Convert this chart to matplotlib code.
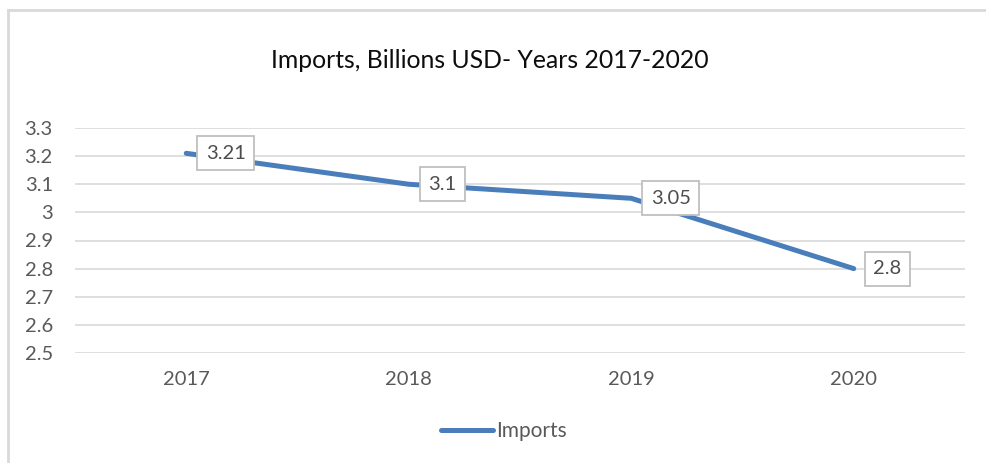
import matplotlib.pyplot as plt
from matplotlib.lines import Line2D

years = ["2017", "2018", "2019", "2020"]
imports = [3.21, 3.1, 3.05, 2.8]
y_ticks = [2.5, 2.6, 2.7, 2.8, 2.9, 3.0, 3.1, 3.2, 3.3]
y_tick_labels = ["2.5", "2.6", "2.7", "2.8", "2.9", "3", "3.1", "3.2", "3.3"]

plt.rcParams["font.family"] = ["Lato", "DejaVu Sans"]

line_color = "#4a7ebb"
grid_color = "#d9d9d9"
text_color = "#595959"

fig = plt.figure(figsize=(9.86, 4.63), dpi=100)
ax = fig.add_axes([75 / 986, 1 - 353 / 463, 890 / 986, 225 / 463])

xs = range(len(years))
ax.plot(xs, imports, color=line_color, lw=3.6, solid_capstyle="round",
        solid_joinstyle="round", zorder=3)

# value labels in boxes, sitting just right of each point
for x, v in zip(xs, imports):
    ax.annotate(f"{v:g}", (x, v), xytext=(14, 0), textcoords="offset points",
                ha="left", va="center", fontsize=14.5, color="#4d4d4d", zorder=4,
                bbox=dict(boxstyle="square,pad=0.42", fc="white", ec="#bfbfbf", lw=1.3))

ax.set_xlim(-0.5, len(years) - 0.5)
ax.set_ylim(2.5, 3.3)
ax.set_xticks(list(xs))
ax.set_xticklabels(years)
ax.set_yticks(y_ticks)
ax.set_yticklabels(y_tick_labels)
ax.tick_params(length=0, labelsize=14.5, colors=text_color)
ax.tick_params(axis="x", pad=13)
ax.tick_params(axis="y", pad=16)
ax.grid(axis="y", color=grid_color, lw=1.2)
ax.set_axisbelow(True)
for s in ax.spines.values():
    s.set_visible(False)

fig.text(490 / 986, 1 - 60 / 463, "Imports, Billions USD- Years 2017-2020",
         ha="center", va="center", fontsize=17.8, color="#0d0d0d")

handle = Line2D([], [], color=line_color, lw=3.6, solid_capstyle="round")
fig.legend([handle], ["Imports"], loc="center", bbox_to_anchor=(504 / 986, 1 - 431 / 463),
           frameon=False, fontsize=15, labelcolor=text_color, handlelength=2.5,
           handletextpad=0.15)

# chart frame
fig.add_artist(Line2D([8 / 986, 1], [1 - 10 / 463] * 2, color=grid_color, lw=2,
                      transform=fig.transFigure))
fig.add_artist(Line2D([8 / 986] * 2, [0, 1 - 10 / 463], color=grid_color, lw=2,
                      transform=fig.transFigure))

fig.savefig("out.png", dpi=100)
